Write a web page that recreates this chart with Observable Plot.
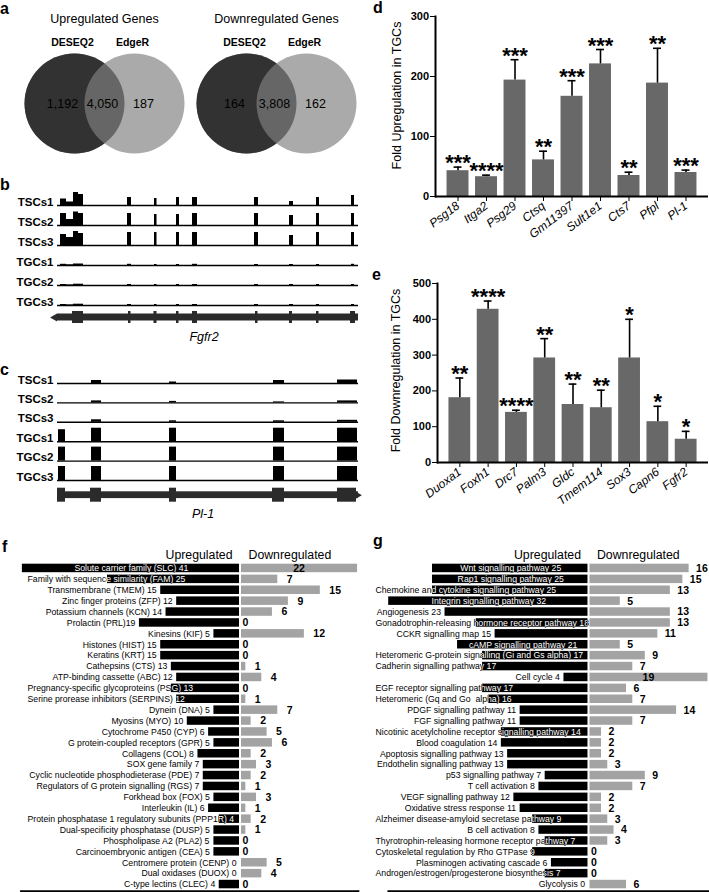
<!DOCTYPE html>
<html><head><meta charset="utf-8">
<script src="https://cdn.jsdelivr.net/npm/d3@7"></script>
<script src="https://cdn.jsdelivr.net/npm/@observablehq/plot@0.6"></script>
<style>
html,body{margin:0;padding:0;background:#fff;}
#fig{position:relative;width:709px;height:892px;overflow:hidden;background:#fff;font-family:"Liberation Sans",Arial,Helvetica,sans-serif;color:#000;}
.panel{position:absolute;}
.panel svg{display:block;}
.letter{position:absolute;font-weight:bold;font-size:16px;line-height:1;}
.gname{position:absolute;font-style:italic;font-size:12.5px;line-height:1;transform:translateX(-50%);white-space:nowrap;}
</style></head><body><div id="fig"></div><script>
// ---------------- DATA ----------------
// a: Venn diagrams
const vennTitles = ["Upregulated Genes", "Downregulated Genes"];
const vennSetNames = ["DESEQ2", "EdgeR"];
const vennDeseqOnly = [1192, 164];
const vennShared = [4050, 3808];
const vennEdgerOnly = [187, 162];

// b, c: coverage tracks
const trackNames = ["TSCs1", "TSCs2", "TSCs3", "TGCs1", "TGCs2", "TGCs3"];
const fgfr2Segments = [[3,9],[9,16],[16,21],[21,26],[70,74],[97,99.5],[119,122],[135,140],[197,201],[232,236],[259,262],[294,297]];
const fgfr2Heights = [
  [6.5,3.5,13,11, 8,7,8,8,8,4,8,10],
  [12,6,13.5,12, 12,11,11,12,12,10,12,12],
  [11,8,14,12, 13,13,13,13,13,10,13,13],
  [1.2,0.7,1.5,1.5, 1.2,1,1,1.2,1,1,1,1.2],
  [1,0.6,1.3,1.3, 1,1,1,1,1,1,1,1],
  [1,0.6,1.3,1.3, 1,1,1,1,1,1,1,1]
];
const fgfr2GeneExons = [[15,26],[71,73.5],[96.5,99.5],[119,121.5],[135,140],[198,200.5],[232,235],[259,261.5],[293,298]];
const pl1Segments = [[1,8],[34,44],[112,119],[216,227],[280,300]];
const pl1Heights = [
  [0,3,1.5,3,3.5],
  [0,2,1.5,1,2],
  [0,2.5,1.5,1.5,2],
  [12,13.5,13.5,13.5,13.5],
  [14,14,14,14,14],
  [14,14,14,14,14]
];
const pl1GeneExons = [[0,8],[33,44],[112,119],[215,227],[280,299]];

// d: upregulated genes
const upGenes = ["Psg18","Itga2","Psg29","Ctsq","Gm11397","Sult1e1","Cts7","Pfpl","Pl-1"];
const upFold = [43, 33, 194, 61, 167, 221, 35, 189, 40];
const upErr = [6, 2.6, 34, 14.5, 26, 24, 5.5, 58, 4];
const upStars = ["***","****","***","**","***","***","**","**","***"];

// e: downregulated genes
const downGenes = ["Duoxa1","Foxh1","Drc7","Palm3","Gldc","Tmem114","Sox3","Capn6","Fgfr2"];
const downFold = [181, 428, 140, 292, 162, 153, 292, 114, 65];
const downErr = [55, 23, 6, 54, 57, 49, 108, 43, 22];
const downStars = ["**","****","****","**","**","**","*","*","*"];

// f: gene families
const familyLabels = [
  "Solute carrier family (SLC) 41","Family with sequence similarity (FAM) 25","Transmembrane (TMEM) 15",
  "Zinc finger proteins (ZFP) 12","Potassium channels (KCN) 14","Prolactin (PRL)19","Kinesins (KIF) 5",
  "Histones (HIST) 15","Keratins (KRT) 15","Cathepsins (CTS) 13","ATP-binding cassette (ABC) 12",
  "Pregnancy-specific glycoproteins (PSG) 13","Serine prorease inhibitors (SERPINS) 12","Dynein (DNA) 5",
  "Myosins (MYO) 10","Cytochrome P450 (CYP) 6","G protein-coupled receptors (GPR) 5","Collagens (COL) 8",
  "SOX gene family 7","Cyclic nucleotide phosphodieterase (PDE) 7","Regulators of G protein signalling (RGS) 7",
  "Forkhead box (FOX) 5","Interleukin (IL) 6","Protein phosphatase 1 regulatory subunits (PPP1R) 4",
  "Dual-specificity phosphatase (DUSP) 5","Phospholipase A2 (PLA2) 5","Carcinoembryonic antigen (CEA) 5",
  "Centromere protein (CENP) 0","Dual oxidases (DUOX) 0","C-type lectins (CLEC) 4"];
const familyUp =   [41,25,15,12,14,19,5,15,15,13,12,13,12,5,10,6,5,8,7,7,7,5,6,4,5,5,5,0,0,4];
const familyDown = [22,7,15,9,6,0,12,0,0,1,4,0,1,7,2,5,6,2,3,2,1,3,1,2,1,0,0,5,4,0];

// g: pathways
const pathwayLabels = [
  "Wnt signalling pathway 25","Rap1 signalling pathway 25","Chemokine and cytokine signalling pathway 25",
  "Integrin signalling pathway 32","Angiogenesis 23","Gonadotrophin-releasing hormone receptor pathway 18",
  "CCKR signalling map 15","cAMP signalling pathway 21","Heteromeric G-protein signalling (Gi and Gs alpha) 17",
  "Cadherin signalling pathway 17","Cell cycle 4","EGF receptor signalling pathway 17",
  "Heteromeric (Gq and Go  alpha) 16","PDGF signalling pathway 11","FGF signalling pathway 11",
  "Nicotinic acetylcholine receptor signalling pathway 14","Blood coagulation 14","Apoptosis signalling pathway 13",
  "Endothelin signalling pathway 13","p53 signalling pathway 7","T cell activation 8","VEGF signalling pathway 12",
  "Oxidative stress response 11","Alzheimer disease-amyloid secretase pathway 9","B cell activation 8",
  "Thyrotrophin-releasing hormone receptor pathway 7","Cytoskeletal regulation by Rho GTPase 9",
  "Plasminogen activating cascade 6","Androgen/estrogen/progesterone biosynthesis 7","Glycolysis 0"];
const pathwayUp =   [25,25,25,32,23,18,15,21,17,17,4,17,16,11,11,14,14,13,13,7,8,12,11,9,8,7,9,6,7,0];
const pathwayDown = [16,15,13,5,13,13,11,5,9,7,19,6,7,14,7,2,2,2,3,9,7,2,2,3,4,3,0,0,0,6];

// ---------------- HELPERS ----------------
const FONT = '"Liberation Sans", Arial, Helvetica, sans-serif';
const ROW_FONT = 8.7;
const fig = document.getElementById("fig");
const baseStyle = {fontFamily: FONT, background: "transparent", overflow: "visible", color: "#000"};
function place(node, left, top) {
  const d = document.createElement("div");
  d.className = "panel"; d.style.left = left + "px"; d.style.top = top + "px";
  d.appendChild(node); fig.appendChild(d); return d;
}
function addText(cls, text, left, top) {
  const d = document.createElement("div");
  d.className = cls; d.textContent = text; d.style.left = left + "px"; d.style.top = top + "px";
  fig.appendChild(d);
}
const measureCtx = document.createElement("canvas").getContext("2d");
function textWidth(s, size) { measureCtx.font = size + "px " + FONT; return measureCtx.measureText(s).width; }
let clipCount = 0;
function clipWhite(svg) {
  const groups = [...svg.children].filter(n => n.tagName.toLowerCase() === "g");
  const bars = svg.querySelector('g[aria-label="up-bars"]') || groups[0];
  const txt = svg.querySelector('g[aria-label="up-labels-white"]') || groups[3];
  if (!bars || !txt) return;
  const ns = "http://www.w3.org/2000/svg";
  const id = "wclip-" + (clipCount++);
  const defs = document.createElementNS(ns, "defs");
  const cp = document.createElementNS(ns, "clipPath");
  cp.setAttribute("id", id);
  const t = bars.getAttribute("transform");
  for (const r of bars.querySelectorAll("rect")) {
    const c = r.cloneNode(false);
    const rt = r.getAttribute("transform");
    const tt = [t, rt].filter(Boolean).join(" ");
    if (tt) c.setAttribute("transform", tt);
    cp.appendChild(c);
  }
  defs.appendChild(cp);
  svg.insertBefore(defs, svg.firstChild);
  const g = document.createElementNS(ns, "g");
  g.setAttribute("clip-path", "url(#" + id + ")");
  txt.parentNode.insertBefore(g, txt);
  g.appendChild(txt);
}

// ---------------- a: Venn ----------------
const fmt = d3.format(",");
const vennRows = vennTitles.map((t, i) => ({title: t, a: vennDeseqOnly[i], ab: vennShared[i], b: vennEdgerOnly[i]}));
const vennCircles = vennTitles.flatMap(t => vennSetNames.map((s, j) => ({title: t, set: s, pos: j})));
const venn = Plot.plot({
  width: 344, height: 160, marginLeft: 0, marginRight: 0, marginTop: 50, marginBottom: 4,
  style: baseStyle,
  fx: {domain: vennTitles, padding: 0, round: false, axis: null},
  x: {domain: [-1.2333, 1.6333], axis: null},
  marks: [
    Plot.dot(vennCircles.filter(d => d.pos === 0), {fx: "title", x: "pos", r: 50, fill: "#333", stroke: "none"}),
    Plot.dot(vennCircles.filter(d => d.pos === 1), {fx: "title", x: "pos", r: 50, fill: "#aaa", stroke: "none"}),
    Plot.dot(vennCircles.filter(d => d.pos === 0), {fx: "title", x: "pos", r: 50, fill: "#333", fillOpacity: 0.571, stroke: "none"}),
    Plot.text(vennRows, {fx: "title", x: 0, text: d => fmt(d.a), dx: -12, frameAnchor: "middle", fontSize: 12.5}),
    Plot.text(vennRows, {fx: "title", x: 0.5, text: d => fmt(d.ab), dx: -2, frameAnchor: "middle", fontSize: 12.5}),
    Plot.text(vennRows, {fx: "title", x: 1, text: d => fmt(d.b), dx: 9, frameAnchor: "middle", fontSize: 12.5}),
    Plot.text(vennRows, {fx: "title", x: 0.5, text: "title", frameAnchor: "top", lineAnchor: "middle", dy: -32, fontSize: 12.5}),
    Plot.text(vennCircles, {fx: "title", x: "pos", text: "set", frameAnchor: "top", lineAnchor: "middle", dx: -2, dy: -8, fontSize: 10.5, fontWeight: "bold"})
  ]
});
place(venn, 0, 0);

// ---------------- b, c: tracks ----------------
function trackPanel({segments, heights, geneExons, strand, bandH, geneY, exonHalf, intronHalf, arrowX, arrowR, marginTop, height}) {
  const cov = [];
  trackNames.forEach((t, i) => heights[i].forEach((h, j) => {
    if (h > 0) cov.push({track: t, x1: segments[j][0], x2: segments[j][1], h});
  }));
  const rowsFy = [...trackNames, "gene"];
  const marginBottom = height - marginTop - bandH * rowsFy.length;
  const gcol = "#2b2b2b";
  return Plot.plot({
    width: 360, height, marginTop, marginBottom, marginLeft: 57, marginRight: 2,
    style: baseStyle,
    x: {domain: [0, 301], axis: null},
    y: {domain: [0, bandH], axis: null},
    fy: {domain: rowsFy, padding: 0, round: false, axis: null},
    marks: [
      Plot.rect(cov, {fy: "track", x1: "x1", x2: "x2", y1: 0, y2: "h", fill: "#000"}),
      Plot.ruleY(trackNames, {fy: d => d, y: 0, strokeWidth: 1.4}),
      Plot.text(trackNames, {fy: d => d, text: d => d, frameAnchor: "bottom-left", textAnchor: "end", lineAnchor: "bottom", dx: -4, fontSize: 11.5, fontWeight: "bold"}),
      Plot.rect(["gene"], {fy: d => d, x1: 0, x2: 301, y1: geneY - intronHalf, y2: geneY + intronHalf, fill: gcol}),
      Plot.rect(geneExons, {fy: () => "gene", x1: d => d[0], x2: d => d[1], y1: geneY - exonHalf, y2: geneY + exonHalf, fill: gcol}),
      Plot.dot(["gene"], {fy: d => d, x: arrowX, y: geneY, symbol: "triangle", r: arrowR, rotate: strand < 0 ? -90 : 90, fill: gcol, stroke: "none"})
    ]
  });
}
place(trackPanel({segments: fgfr2Segments, heights: fgfr2Heights, geneExons: fgfr2GeneExons, strand: -1,
  bandH: 20, geneY: 8, exonHalf: 6, intronHalf: 3.5, arrowX: -2.8, arrowR: 3, marginTop: 20, height: 180}), 0, 165);
place(trackPanel({segments: pl1Segments, heights: pl1Heights, geneExons: pl1GeneExons, strand: 1,
  bandH: 19.4, geneY: 4.7, exonHalf: 7, intronHalf: 3.4, arrowX: 300.5, arrowR: 2.5, marginTop: 18.6, height: 180}), 0, 345);
addText("gname", "Fgfr2", 204, 331);
addText("gname", "Pl-1", 203, 508);

// ---------------- d, e: fold bar charts ----------------
function foldChart({genes, fold, err, stars, yMax, ticks, label, width, height, marginTop, marginBottom, marginLeft, labelDx, labelDy}) {
  const rows = genes.map((g, i) => ({gene: g, fold: fold[i], top: fold[i] + err[i], stars: stars[i]}));
  return Plot.plot({
    width, height, marginTop, marginBottom, marginLeft, marginRight: 1,
    style: baseStyle,
    x: {domain: genes, paddingInner: 0.23, paddingOuter: 0.405, round: false},
    y: {domain: [0, yMax]},
    marks: [
      Plot.barY(rows, {x: "gene", y: "fold", fill: "#686868"}),
      Plot.ruleX(rows, {x: "gene", y1: "fold", y2: "top", strokeWidth: 1.6}),
      Plot.tickY(rows, {x: "gene", y: "top", strokeWidth: 1.6, insetLeft: 7, insetRight: 7}),
      Plot.text(rows, {x: "gene", y: "top", text: "stars", fontSize: 22, fontWeight: "bold", lineAnchor: "bottom", dy: 3}),
      Plot.axisY({ticks, tickSize: 5, tickPadding: 1.5, fontSize: 11, fontWeight: "bold", label: null}),
      Plot.axisX({tickSize: 5, tickPadding: 3, tickRotate: -37, fontSize: 12, fontStyle: "italic", label: null}),
      Plot.text([label], {text: d => d, frameAnchor: "left", textAnchor: "middle", lineAnchor: "middle", rotate: -90, dx: labelDx, dy: labelDy, fontSize: 12.5}),
      Plot.ruleY([0], {strokeWidth: 2}),
      Plot.frame({anchor: "left", strokeWidth: 2})
    ]
  });
}
place(foldChart({genes: upGenes, fold: upFold, err: upErr, stars: upStars, yMax: 300, ticks: [0,100,200,300],
  label: "Fold Upregulation in TGCs", width: 354, height: 248, marginTop: 16, marginBottom: 52, marginLeft: 80,
  labelDx: -39, labelDy: -11}), 355, 0);
place(foldChart({genes: downGenes, fold: downFold, err: downErr, stars: downStars, yMax: 500, ticks: [0,100,200,300,400,500],
  label: "Fold Downregulation in TGCs", width: 354, height: 280, marginTop: 33, marginBottom: 68, marginLeft: 82,
  labelDx: -42, labelDy: -2.5}), 355, 250);

// ---------------- f, g: split bar charts ----------------
function splitBars({labels, up, down, xDomain, xRange, minLeft, downDx, width, height, yRange}) {
  const k = (xRange[1] - xRange[0]) / (xDomain[1] - xDomain[0]);
  const zeroPx = xRange[0] - xDomain[0] * k;
  const toU = px => (px - zeroPx) / k;
  const gap = 4 / k, pad = 1 / k, minU = toU(minLeft);
  const maxDown = d3.max(down);
  const rows = labels.map((label, i) => {
    const w = textWidth(label, ROW_FONT) / k;
    let lx = -up[i] - gap - w;
    if (lx < minU) lx = (w <= up[i] - 2 * pad) ? -up[i] / 2 - w / 2 : minU;
    return {label, up: up[i], down: down[i], lx, inside: down[i] === maxDown};
  });
  const valStyle = {fontSize: 10.5, fontWeight: "bold"};
  const svg = Plot.plot({
    width, height, marginTop: yRange[0], marginBottom: height - yRange[1] - 1.5,
    marginLeft: xRange[0], marginRight: width - xRange[1],
    style: baseStyle,
    x: {domain: xDomain, range: xRange, axis: null},
    y: {domain: labels, range: yRange, axis: null, paddingInner: 0.22, paddingOuter: 0.11, round: false},
    marks: [
      Plot.barX(rows, {y: "label", x1: d => -d.up, x2: 0, fill: "#000", insetRight: 1, ariaLabel: "up-bars"}),
      Plot.barX(rows, {y: "label", x1: 0, x2: "down", fill: "#a3a3a3", insetLeft: 1}),
      Plot.text(rows, {y: "label", x: "lx", text: "label", textAnchor: "start", fontSize: ROW_FONT, fill: "#000"}),
      Plot.text(rows, {y: "label", x: "lx", text: "label", textAnchor: "start", fontSize: ROW_FONT, fill: "#fff", ariaLabel: "up-labels-white"}),
      Plot.text(rows.filter(d => d.down > 0 && !d.inside), {y: "label", x: "down", text: d => String(d.down), textAnchor: "start", dx: downDx, ...valStyle}),
      Plot.text(rows.filter(d => d.down === 0), {y: "label", x: 0, text: d => String(d.down), textAnchor: "start", dx: 2, ...valStyle}),
      Plot.text(rows.filter(d => d.inside), {y: "label", x: d => d.down / 2, text: d => String(d.down), ...valStyle}),
      Plot.text(["Upregulated"], {x: 0, text: d => d, frameAnchor: "top", lineAnchor: "middle", textAnchor: "end", dx: -8, dy: -8, fontSize: 12.3}),
      Plot.text(["Downregulated"], {x: 0, text: d => d, frameAnchor: "top", lineAnchor: "middle", textAnchor: "start", dx: 8, dy: -8, fontSize: 12.3}),
      Plot.frame({anchor: "bottom", strokeWidth: 2.5})
    ]
  });
  clipWhite(svg);
  return svg;
}
place(splitBars({labels: familyLabels, up: familyUp, down: familyDown, xDomain: [-41.2, 22.1], xRange: [20.8, 357.6],
  minLeft: 27, downDx: 9, width: 360, height: 362, yRange: [32.5, 359.5]}), 0, 530);
place(splitBars({labels: pathwayLabels, up: pathwayUp, down: pathwayDown, xDomain: [-32, 19], xRange: [33.2, 352.4],
  minLeft: 20, downDx: 7, width: 354, height: 362, yRange: [32.5, 359.5]}), 355, 530);

// ---------------- panel letters ----------------
addText("letter", "a", 0, 0.5);
addText("letter", "b", 0, 177);
addText("letter", "c", 0, 362);
addText("letter", "d", 373, 0);
addText("letter", "e", 372, 267);
addText("letter", "f", 2, 539);
addText("letter", "g", 373, 533);
</script></body></html>
